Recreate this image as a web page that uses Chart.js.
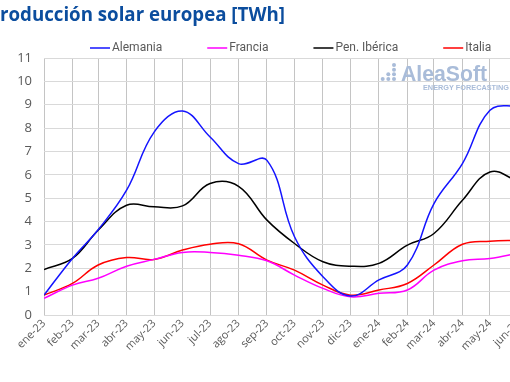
<!DOCTYPE html>
<html>
<head>
<meta charset="utf-8">
<script src="https://cdn.jsdelivr.net/npm/chart.js@4"></script>
<style>
html,body{margin:0;padding:0;background:#fff;overflow:hidden;width:510px;height:382px;}
#wrap{position:absolute;left:0;top:0;width:522px;height:382px;}
</style>
</head>
<body>
<div id="wrap"><canvas id="c" width="522" height="382"></canvas></div>
<script>
const titleText = 'Producción solar europea [TWh]';
const categories = ['ene-23','feb-23','mar-23','abr-23','may-23','jun-23','jul-23','ago-23','sep-23','oct-23','nov-23','dic-23','ene-24','feb-24','mar-24','abr-24','may-24','jun-24'];
const seriesNames = ['Alemania','Francia','Pen. Ibérica','Italia'];
const alemania   = [0.85,2.42,3.65,5.34,7.83,8.73,7.62,6.48,6.62,3.35,1.64,0.81,1.50,2.14,4.77,6.48,8.76,8.97];
const francia    = [0.71,1.28,1.57,2.09,2.38,2.68,2.68,2.56,2.32,1.71,1.14,0.78,0.93,1.07,1.92,2.32,2.42,2.65];
const penIberica = [1.95,2.42,3.63,4.70,4.63,4.67,5.63,5.51,4.06,3.06,2.28,2.09,2.21,2.99,3.49,4.91,6.12,5.72];
const italia     = [0.85,1.35,2.14,2.46,2.38,2.78,3.03,3.05,2.35,1.92,1.28,0.85,1.07,1.35,2.14,3.03,3.16,3.20];
const yTickLabels = ['0','1','2','3','4','5','6','7','8','9','10','11'];
const seriesColors = ['#1414ff','#ff00ff','#000000','#ff0000'];

const monthIdx = {ene:0,feb:1,mar:2,abr:3,may:4,jun:5,jul:6,ago:7,sep:8,oct:9,nov:10,dic:11};
const base = Date.UTC(2023,0,1);
const dayOf = c => { const [m,y] = c.split('-'); return (Date.UTC(2000+Number(y), monthIdx[m], 1) - base)/86400000; };
const days = categories.map(dayOf);
const pts = arr => arr.map((v,i)=>({x:days[i], y:v}));
const allSeries = [alemania, francia, penIberica, italia];

const extras = {
  id:'extras',
  beforeDatasetsDraw(chart){
    const ctx = chart.ctx;
    ctx.save();
    ctx.fillStyle = '#a9bcd9';
    const cols = [382.7, 388.3, 394];
    const rows = [79, 74.3, 69.7, 65];
    const counts = [1,2,4];
    cols.forEach((cx,ci)=>{ for(let r=0;r<counts[ci];r++){ ctx.beginPath(); ctx.arc(cx, rows[r], 2, 0, Math.PI*2); ctx.fill(); } });
    ctx.font = 'bold 22px "Liberation Sans", Arial, sans-serif';
    ctx.textBaseline = 'alphabetic';
    ctx.textAlign = 'left';
    ctx.fillText('AleaSoft', 401, 81, 86);
    ctx.font = 'bold 8px "Liberation Sans", Arial, sans-serif';
    ctx.fillText('ENERGY FORECASTING', 423, 89.5, 86);
    ctx.restore();
  },
  afterDraw(chart){
    const ctx = chart.ctx;
    ctx.save();
    ctx.fillStyle = '#0b4d9e';
    // size title so that the part after the first letter spans 0..285 px
    let fs = 20;
    ctx.font = 'bold ' + fs + 'px "Open Sans", sans-serif';
    const rest = ctx.measureText(titleText.slice(1)).width;
    fs = fs * 285 / rest;
    ctx.font = 'bold ' + fs.toFixed(2) + 'px "Open Sans", sans-serif';
    const first = ctx.measureText(titleText.slice(0,1)).width;
    ctx.textAlign = 'left';
    ctx.textBaseline = 'alphabetic';
    ctx.fillText(titleText, -first, 21);
    // legend
    ctx.font = '12px Roboto, sans-serif';
    ctx.textBaseline = 'middle';
    let x = 90;
    chart.data.datasets.forEach(ds=>{
      ctx.strokeStyle = ds.borderColor;
      ctx.lineWidth = 1.5;
      ctx.beginPath(); ctx.moveTo(x, 48); ctx.lineTo(x+20, 48); ctx.stroke();
      ctx.fillStyle = '#595959';
      ctx.fillText(ds.label, x+22, 47.5);
      x += 22 + ctx.measureText(ds.label).width + 45;
    });
    ctx.restore();
  }
};

new Chart(document.getElementById('c'), {
  type:'line',
  data:{
    datasets: allSeries.map((arr,i)=>({
      label: seriesNames[i],
      data: pts(arr),
      borderColor: seriesColors[i],
      backgroundColor: seriesColors[i],
      borderWidth: 1.5,
      pointRadius: 0,
      tension: 0.4,
      fill:false
    }))
  },
  options:{
    responsive:false,
    animation:false,
    layout:{padding:{top:58,left:0,right:3.6,bottom:0}},
    plugins:{legend:{display:false},title:{display:false},tooltip:{enabled:false}},
    scales:{
      x:{
        type:'linear',
        min: days[0], max: days[days.length-1],
        afterBuildTicks: s => { s.ticks = days.map(v=>({value:v})); },
        afterFit: s => { s.height = 67; s.paddingLeft = 0; s.paddingRight = 0; },
        grid:{color:'#c4c4c4', lineWidth:1, drawTicks:false},
        border:{display:false},
        ticks:{
          autoSkip:false, minRotation:45, maxRotation:45, padding:2,
          color:'#595959', font:{family:'"Open Sans", sans-serif', size:11},
          callback:(v,i)=>categories[i]
        }
      },
      y:{
        min:0, max:11,
        afterFit: s => { s.width = 44; },
        grid:{color:'#d9d9d9', lineWidth:1, drawTicks:false},
        border:{display:false},
        ticks:{
          stepSize:0.5, padding:12,
          color:'#595959', font:{family:'"Open Sans", sans-serif', size:13},
          callback:(v)=> Number.isInteger(v) ? yTickLabels[v] : ''
        }
      }
    }
  },
  plugins:[extras]
});
</script>
</body>
</html>
